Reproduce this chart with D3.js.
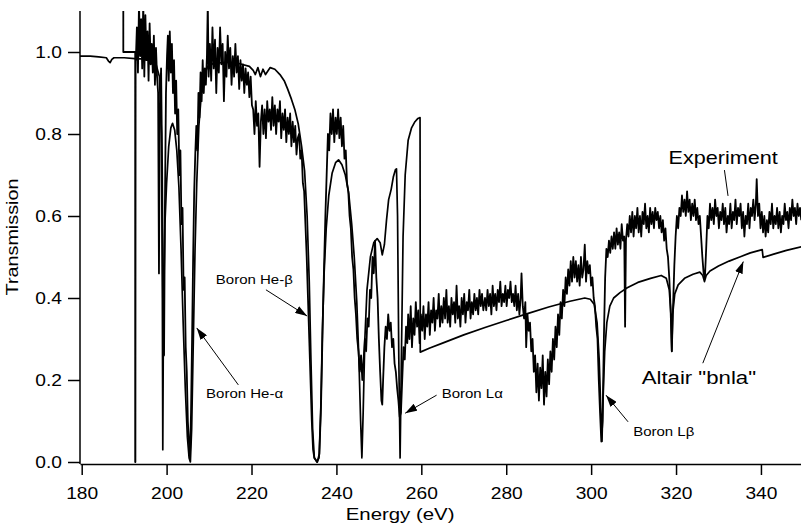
<!DOCTYPE html>
<html lang="en">
<head>
<meta charset="utf-8">
<title>Boron transmission: experiment vs Altair</title>
<script src="https://cdn.jsdelivr.net/npm/d3@7"></script>
<style>
  body { margin: 0; background: #fff; }
  svg { display: block; font-family: "Liberation Sans", Arial, sans-serif; }
</style>
</head>
<body>
<script>
// ---- data (energy eV, transmission) ----
var xTicks = [180, 200, 220, 240, 260, 280, 300, 320, 340];
var yTicks = [0, 0.2, 0.4, 0.6, 0.8, 1.0];

// Altair "bnla" calculation
var calcPreEdge = [[179.6,0.99],[182,0.99],[184,0.988],[185.8,0.986],[186.3,0.978],[186.7,0.974],[187.1,0.982],[187.6,0.986],[190,0.986],[192.5,0.984]];
var calcHeAlpha = [[194,0.983],[196,0.98],[197.5,0.97],[198.3,0.94],[198.8,0.8],[199.0,0.4],[199.1,0.03],[199.25,0.35],[199.6,0.58],[200.0,0.68],[200.5,0.77],[201.0,0.815],[201.4,0.826],[201.9,0.81],[202.4,0.76],[202.9,0.67],[203.4,0.52],[203.9,0.34],[204.4,0.18],[204.9,0.06],[205.3,0.01],[205.6,0.0],[205.9,0.08],[206.3,0.3],[206.7,0.52],[207.1,0.68],[207.6,0.82],[208.2,0.9],[208.9,0.945],[209.7,0.965],[211,0.972],[214,0.975],[217,0.972],[219.5,0.965]];
var calcHeBeta = [[220.4,0.955],[220.9,0.945],[221.5,0.962],[222.1,0.94],[222.7,0.958],[223.3,0.945],[224.4,0.962],[225.5,0.958],[226.7,0.945],[227.7,0.93],[228.5,0.91],[229.4,0.885],[230.2,0.86],[231.0,0.825],[231.8,0.77],[232.5,0.71],[233.1,0.6],[233.6,0.44],[234.0,0.25],[234.4,0.08],[234.8,0.01],[235.4,0.0],[235.9,0.01],[236.3,0.12],[236.7,0.32],[237.1,0.46],[237.6,0.57],[238.2,0.65],[239.0,0.705],[239.8,0.73],[240.5,0.737],[241.3,0.725],[242.1,0.7],[242.9,0.655],[243.6,0.58],[244.2,0.5],[244.8,0.39],[245.3,0.25],[245.7,0.1],[246.0,0.01],[246.3,0.12],[246.7,0.3],[247.2,0.42],[248.0,0.5],[248.8,0.535],[249.6,0.545],[250.3,0.535],[250.8,0.505],[251.3,0.53],[251.8,0.59],[252.3,0.64],[252.9,0.665],[253.4,0.695],[253.9,0.713],[254.15,0.715],[254.4,0.6],[254.7,0.25],[255.0,0.01],[255.3,0.25],[255.7,0.55],[256.2,0.7],[256.9,0.785],[257.7,0.815],[258.5,0.83],[259.2,0.838],[259.7,0.84],[259.75,0.268]];
var calcTail = [[262,0.278],[265,0.29],[270,0.31],[275,0.328],[280,0.345],[285,0.362],[290,0.378],[295,0.392],[298.5,0.4],[299.8,0.397],[300.7,0.385],[301.4,0.34],[301.9,0.25],[302.3,0.12],[302.55,0.05],[302.8,0.15],[303.2,0.27],[303.7,0.34],[304.4,0.38],[305.3,0.4],[306.8,0.413],[308.5,0.425],[311,0.438],[314,0.448],[316.5,0.455],[317.7,0.448],[318.4,0.42],[318.8,0.36],[319.0,0.27],[319.2,0.36],[319.7,0.41],[320.5,0.432],[322,0.448],[324,0.458],[325.6,0.463],[326.3,0.455],[326.7,0.44],[327.1,0.455],[328,0.466],[330,0.478],[332.5,0.49],[335,0.5],[337.5,0.51],[340.3,0.518],[340.5,0.499],[343,0.507],[346,0.516],[349.9,0.526]];

// Experiment
var expEdge = [[189.8,1.15],[189.8,1.0],[192.6,1.0],[192.6,0.0],[192.65,0.0],[192.7,0.98]];
var expHeAlpha = [[192.75,0.98],[193.0,1.06],[193.25,0.95],[193.5,1.12],[193.75,0.99],[194.0,1.08],[194.25,0.96],[194.5,1.12],[194.75,0.94],[195.0,1.09],[195.25,0.98],[195.5,1.05],[195.75,0.93],[196.0,1.07],[196.25,0.97],[196.5,1.02],[196.75,0.95],[197.0,1.04],[197.25,0.92],[197.5,1.01],[197.75,0.94],[198.0,0.9],[198.2,0.46],[198.4,0.86],[198.7,0.96],[198.95,0.72],[199.2,0.3],[199.4,0.26],[199.6,0.62],[199.85,0.9],[200.1,0.99],[200.3,1.04],[200.5,0.93],[200.75,1.05],[201.0,0.95],[201.25,1.02],[201.5,0.9],[201.75,0.98],[202.0,0.85],[202.25,0.93],[202.5,0.8],[202.75,0.86],[203.0,0.7],[203.25,0.76],[203.5,0.58],[203.75,0.62],[204.0,0.42],[204.25,0.45],[204.5,0.28],[204.75,0.22],[205.0,0.1],[205.25,0.05],[205.5,0.01],[205.75,0.12],[206.0,0.3],[206.25,0.5],[206.5,0.66],[206.75,0.75],[207.0,0.82],[207.25,0.76],[207.5,0.9],[207.75,0.84],[208.0,0.95],[208.25,0.88],[208.5,0.98],[208.75,0.9],[209.0,0.96],[209.25,0.92],[209.5,0.99],[209.7,1.12],[209.9,0.94]];
var expPlateau = [[210.2,1.02],[210.5,0.93],[210.8,1.06],[211.1,0.96],[211.4,1.03],[211.7,0.9],[212.0,1.01],[212.3,0.95],[212.6,1.06],[212.9,0.97],[213.2,1.02],[213.5,0.88],[213.8,1.0],[214.1,0.94],[214.4,1.04],[214.7,0.96],[215.0,1.01],[215.3,0.92],[215.6,0.99],[215.9,0.94],[216.2,1.02],[216.5,0.95],[216.8,0.99],[217.1,0.91],[217.4,0.98],[217.7,0.93],[218.0,0.97],[218.3,0.9],[218.6,0.96],[218.9,0.92],[219.2,0.95],[219.5,0.89],[219.8,0.94],[220.1,0.87],[220.4,0.86],[220.7,0.8],[221.0,0.88],[221.3,0.82],[221.6,0.85],[221.9,0.72],[222.2,0.83],[222.5,0.87],[222.8,0.8],[223.1,0.86],[223.4,0.79],[223.7,0.88],[224.0,0.83],[224.3,0.86],[224.6,0.81],[224.9,0.89],[225.2,0.82],[225.5,0.87],[225.8,0.8],[226.1,0.86],[226.4,0.83],[226.7,0.88],[227.0,0.79],[227.3,0.85],[227.6,0.81],[227.9,0.86],[228.2,0.78],[228.5,0.84],[228.8,0.8],[229.1,0.85],[229.4,0.77],[229.7,0.83],[230.0,0.78],[230.3,0.82],[230.6,0.75],[230.9,0.79]];
var expHeBeta = [[231.2,0.8],[231.5,0.74],[231.8,0.76],[232.1,0.68],[232.4,0.66],[232.7,0.58],[233.0,0.5],[233.3,0.4],[233.6,0.3],[233.9,0.2],[234.2,0.1],[234.5,0.03],[234.8,0.01],[235.5,0.0],[236.0,0.02],[236.4,0.15],[236.8,0.35],[237.1,0.48],[237.4,0.6],[237.7,0.7],[238.0,0.8],[238.3,0.76],[238.6,0.85],[238.9,0.8],[239.2,0.86],[239.5,0.78],[239.8,0.84],[240.1,0.8],[240.4,0.86],[240.7,0.79],[241.0,0.84],[241.3,0.77],[241.6,0.82],[241.9,0.74],[242.2,0.76],[242.5,0.68],[242.8,0.66],[243.1,0.6],[243.4,0.57],[243.7,0.5],[244.0,0.47],[244.3,0.4],[244.6,0.36],[244.9,0.3],[245.2,0.27],[245.5,0.22],[245.8,0.26],[246.1,0.2],[246.4,0.25],[246.7,0.3],[247.0,0.27],[247.3,0.35],[247.6,0.33],[247.9,0.42],[248.2,0.4],[248.5,0.5],[248.8,0.46],[249.1,0.54],[249.4,0.45],[249.7,0.4],[250.0,0.3],[250.3,0.22],[250.6,0.15],[250.8,0.14],[251.0,0.2],[251.3,0.28],[251.6,0.33],[251.9,0.3],[252.2,0.36],[252.5,0.32],[252.8,0.34],[253.1,0.28],[253.4,0.3],[253.7,0.24],[254.0,0.22],[254.3,0.18],[254.6,0.15],[254.9,0.11],[255.2,0.12],[255.5,0.2],[255.8,0.28],[256.1,0.25],[256.4,0.33],[256.7,0.29]];
var expShelf = [[256.9,0.36],[257.2,0.3],[257.5,0.38],[257.8,0.28],[258.1,0.35],[258.4,0.31],[258.7,0.39],[259.0,0.33],[259.3,0.37],[259.6,0.29],[259.9,0.36],[260.2,0.32],[260.5,0.38],[260.8,0.3],[261.1,0.36],[261.4,0.33],[261.7,0.39],[262.0,0.31],[262.3,0.37],[262.6,0.34],[262.9,0.4],[263.2,0.32],[263.5,0.37],[263.8,0.35],[264.1,0.41],[264.4,0.33],[264.7,0.38],[265.0,0.34],[265.3,0.4],[265.6,0.35],[265.9,0.42],[266.2,0.34],[266.5,0.38],[266.8,0.33],[267.1,0.4],[267.4,0.36],[267.7,0.39],[268.0,0.34],[268.3,0.43],[268.6,0.35],[268.9,0.38],[269.2,0.33],[269.5,0.4],[269.8,0.36],[270.1,0.41],[270.4,0.34],[270.7,0.39],[271.0,0.37],[271.3,0.42],[271.6,0.35],[271.9,0.39],[272.2,0.36],[272.5,0.41],[272.8,0.37],[273.1,0.4],[273.4,0.36],[273.7,0.42],[274.0,0.38],[274.3,0.41],[274.6,0.37],[275.0,0.4],[275.3,0.37],[275.6,0.42],[275.9,0.38],[276.2,0.41],[276.5,0.36],[276.8,0.43],[277.1,0.38],[277.4,0.41],[277.7,0.37],[278.0,0.42],[278.3,0.39],[278.6,0.44],[278.9,0.38],[279.2,0.41],[279.5,0.39],[279.8,0.43],[280.1,0.38],[280.4,0.42],[280.7,0.4],[281.0,0.44],[281.3,0.39],[281.6,0.41],[281.9,0.38],[282.2,0.43],[282.5,0.37],[282.8,0.41],[283.1,0.36],[283.4,0.4],[283.6,0.46],[283.9,0.38],[284.2,0.35],[284.5,0.39]];
var expBroad = [[284.7,0.28],[285.0,0.36],[285.3,0.32],[285.6,0.34],[285.9,0.27],[286.2,0.3],[286.5,0.22],[286.8,0.26],[287.1,0.17],[287.4,0.24],[287.7,0.15],[288.0,0.23],[288.3,0.18],[288.6,0.26],[288.9,0.14],[289.2,0.22],[289.5,0.16],[289.8,0.25],[290.1,0.19],[290.4,0.27],[290.7,0.22],[291.0,0.3],[291.3,0.25],[291.6,0.33],[291.9,0.28],[292.2,0.36],[292.5,0.31],[292.8,0.39],[293.1,0.35],[293.4,0.42],[293.7,0.38],[294.0,0.45],[294.3,0.41],[294.6,0.47],[294.9,0.43],[295.2,0.49],[295.5,0.44],[295.8,0.5],[296.1,0.45],[296.4,0.49],[296.7,0.44],[297.0,0.48],[297.3,0.43],[297.6,0.5],[297.9,0.45],[298.2,0.47],[298.5,0.53],[298.8,0.44],[299.1,0.49],[299.4,0.46],[299.7,0.48],[300.0,0.43],[300.3,0.45],[300.6,0.4],[300.9,0.38],[301.2,0.33],[301.5,0.3],[301.8,0.2],[302.1,0.12],[302.4,0.05],[302.7,0.1]];
var expTail = [[303.0,0.3],[303.3,0.45],[303.6,0.52],[303.9,0.5],[304.2,0.54],[304.5,0.51],[304.8,0.55],[305.1,0.52],[305.4,0.56],[305.7,0.52],[306.0,0.57],[306.3,0.53],[306.6,0.56],[306.9,0.52],[307.2,0.58],[307.5,0.54],[307.8,0.55],[308.0,0.33],[308.2,0.54],[308.5,0.58],[308.8,0.55],[309.1,0.6],[309.4,0.56],[309.7,0.61],[310.0,0.55],[310.3,0.6],[310.6,0.57],[310.9,0.62],[311.2,0.56],[311.5,0.6],[311.8,0.55],[312.1,0.61],[312.4,0.58],[312.7,0.63],[313.0,0.57],[313.3,0.6],[313.6,0.56],[313.9,0.62],[314.2,0.58],[314.5,0.61],[314.8,0.57],[315.1,0.62],[315.4,0.59],[315.7,0.61],[316.0,0.57],[316.3,0.6],[316.6,0.56],[316.9,0.59],[317.2,0.54],[317.5,0.57],[317.8,0.52],[318.1,0.5],[318.4,0.45],[318.7,0.38],[319.0,0.27],[319.3,0.38],[319.6,0.48],[319.9,0.55],[320.2,0.6],[320.5,0.57],[320.8,0.62],[321.1,0.6],[321.4,0.65],[321.7,0.61],[322.0,0.64],[322.3,0.6],[322.6,0.66],[322.9,0.61],[323.2,0.64],[323.5,0.59],[323.8,0.63],[324.1,0.6],[324.4,0.64],[324.7,0.59],[325.0,0.62],[325.3,0.58],[325.6,0.6],[325.9,0.55],[326.2,0.5],[326.5,0.46],[326.8,0.45],[327.1,0.52],[327.4,0.6],[327.7,0.57],[328.0,0.63],[328.3,0.59],[328.6,0.62],[328.9,0.58],[329.2,0.64],[329.5,0.6],[329.8,0.62],[330.1,0.57],[330.4,0.61],[330.7,0.59],[331.0,0.63],[331.3,0.58],[331.6,0.62],[331.9,0.56],[332.2,0.6],[332.5,0.58],[332.8,0.63],[333.1,0.57],[333.4,0.61],[333.7,0.59],[334.0,0.64],[334.3,0.58],[334.6,0.62],[334.9,0.6],[335.2,0.63],[335.5,0.57],[335.8,0.61],[336.1,0.55],[336.4,0.6],[336.7,0.58],[337.0,0.63],[337.3,0.57],[337.6,0.62],[337.9,0.6],[338.2,0.64],[338.5,0.59],[338.8,0.63],[339.0,0.69],[339.3,0.6],[339.6,0.63],[339.9,0.57],[340.2,0.61],[340.5,0.56],[340.8,0.6],[341.1,0.55],[341.4,0.59],[341.7,0.56],[342.0,0.61],[342.3,0.58],[342.6,0.63],[342.9,0.57],[343.2,0.6],[343.5,0.58],[343.8,0.62],[344.1,0.57],[344.4,0.61],[344.7,0.56],[345.0,0.6],[345.3,0.58],[345.6,0.63],[345.9,0.59],[346.2,0.61],[346.5,0.57],[346.8,0.62],[347.1,0.59],[347.4,0.64],[347.7,0.6],[348.0,0.62],[348.3,0.58],[348.6,0.63],[348.9,0.6],[349.2,0.62],[349.5,0.59]];

// annotation text
var labelTexts = ["Boron He-\u03b1", "Boron He-\u03b2", "Boron L\u03b1", "Boron L\u03b2", "Experiment", "Altair \"bnla\""];

var calc = calcPreEdge.concat(calcHeAlpha, calcHeBeta, calcTail);
var expt = expEdge.concat(expHeAlpha, expPlateau, expHeBeta, expShelf, expBroad, expTail);

//Width and height
var w = 801;
var h = 527;
var stretch = 1.2;   // scanned lettering is wide

var x = d3.scaleLinear().domain([179.6, 350]).range([80, 803.4]);
var y = d3.scaleLinear().domain([0, 1.1]).range([462, 11]);

var svg = d3.select("body")
  .append("svg")
  .attr("width", w)
  .attr("height", h);

svg.append("defs").append("clipPath")
  .attr("id", "plot")
  .append("rect")
  .attr("x", x(179.6))
  .attr("y", y(1.1))
  .attr("width", x(350) - x(179.6))
  .attr("height", y(0) - y(1.1) + 2);

svg.select("defs").append("marker")
  .attr("id", "head")
  .attr("markerUnits", "userSpaceOnUse")
  .attr("viewBox", "0 0 12 8")
  .attr("markerWidth", 12)
  .attr("markerHeight", 8)
  .attr("refX", 12)
  .attr("refY", 4)
  .attr("orient", "auto")
  .append("path")
  .attr("d", "M0,0L12,4L0,8Z")
  .attr("fill", "#000");

var line = d3.line()
  .x(function(d) { return x(d[0]); })
  .y(function(d) { return y(d[1]); });

var plot = svg.append("g").attr("clip-path", "url(#plot)");

plot.append("path")
  .datum(calc)
  .attr("d", line)
  .attr("fill", "none")
  .attr("stroke", "#000")
  .attr("stroke-width", 1.7)
  .attr("stroke-linejoin", "round");

plot.append("path")
  .datum(expt)
  .attr("d", line)
  .attr("fill", "none")
  .attr("stroke", "#000")
  .attr("stroke-width", 1.8)
  .attr("stroke-linejoin", "round");

// axes
var xAxis = svg.append("g")
  .attr("transform", "translate(0," + (y(0) + 2) + ")")
  .call(d3.axisBottom(x).tickValues(xTicks).tickSize(11).tickSizeOuter(0).tickFormat(d3.format("d")));

var yAxis = svg.append("g")
  .attr("transform", "translate(" + x(179.6) + ",0)")
  .call(d3.axisLeft(y).tickValues(yTicks).tickSize(12).tickSizeOuter(0).tickFormat(d3.format(".1f")));

yAxis.select(".domain").attr("d", "M0," + (y(0) + 2) + "V" + y(1.1));

[xAxis, yAxis].forEach(function(a) {
  a.select(".domain").attr("stroke-width", 1.5);
  a.selectAll(".tick line").attr("stroke-width", 1.5);
  a.selectAll("text")
    .attr("font-family", "Liberation Sans, Arial, sans-serif")
    .attr("font-size", 16)
    .attr("fill", "#000");
});

xAxis.selectAll("text")
  .attr("y", 35)
  .attr("dy", 0)
  .attr("transform", "scale(" + stretch + ",1)");

yAxis.selectAll("text")
  .attr("x", -18 / stretch)
  .attr("dy", "0.36em")
  .attr("transform", "scale(" + stretch + ",1)");

function addText(px, py, str, size, anchor, rot) {
  svg.append("text")
    .attr("transform", "translate(" + px + "," + py + ")" + (rot ? " rotate(" + rot + ")" : "") + " scale(" + stretch + ",1)")
    .attr("text-anchor", anchor)
    .attr("font-size", size)
    .attr("fill", "#000")
    .text(str);
}

addText(18, 237, "Transmission", 16.5, "middle", -90);
addText(x(255), 520, "Energy (eV)", 17, "middle");

// annotations
function arrow(e0, t0, e1, t1, head) {
  svg.append("line")
    .attr("x1", x(e0)).attr("y1", y(t0))
    .attr("x2", x(e1)).attr("y2", y(t1))
    .attr("stroke", "#000")
    .attr("stroke-width", 1)
    .attr("marker-end", head ? "url(#head)" : null);
}

arrow(216.9, 0.188, 207.1, 0.327, true);
addText(x(209.3), y(0.157), labelTexts[0], 12.5, "start");

arrow(223.4, 0.42, 233.1, 0.356, true);
addText(x(211.6), y(0.433), labelTexts[1], 12.5, "start");

arrow(263.6, 0.163, 256.2, 0.119, true);
addText(x(264.8), y(0.157), labelTexts[2], 12.5, "start");

arrow(308.7, 0.098, 303.5, 0.163, true);
addText(x(309.9), y(0.063), labelTexts[3], 12.5, "start");

arrow(331.4, 0.712, 332.25, 0.649, false);
addText(x(331.1), y(0.727), labelTexts[4], 18, "middle");

arrow(326.3, 0.241, 335.85, 0.489, true);
addText(x(311.9), y(0.191), labelTexts[5], 18.5, "start");
</script>
</body>
</html>
